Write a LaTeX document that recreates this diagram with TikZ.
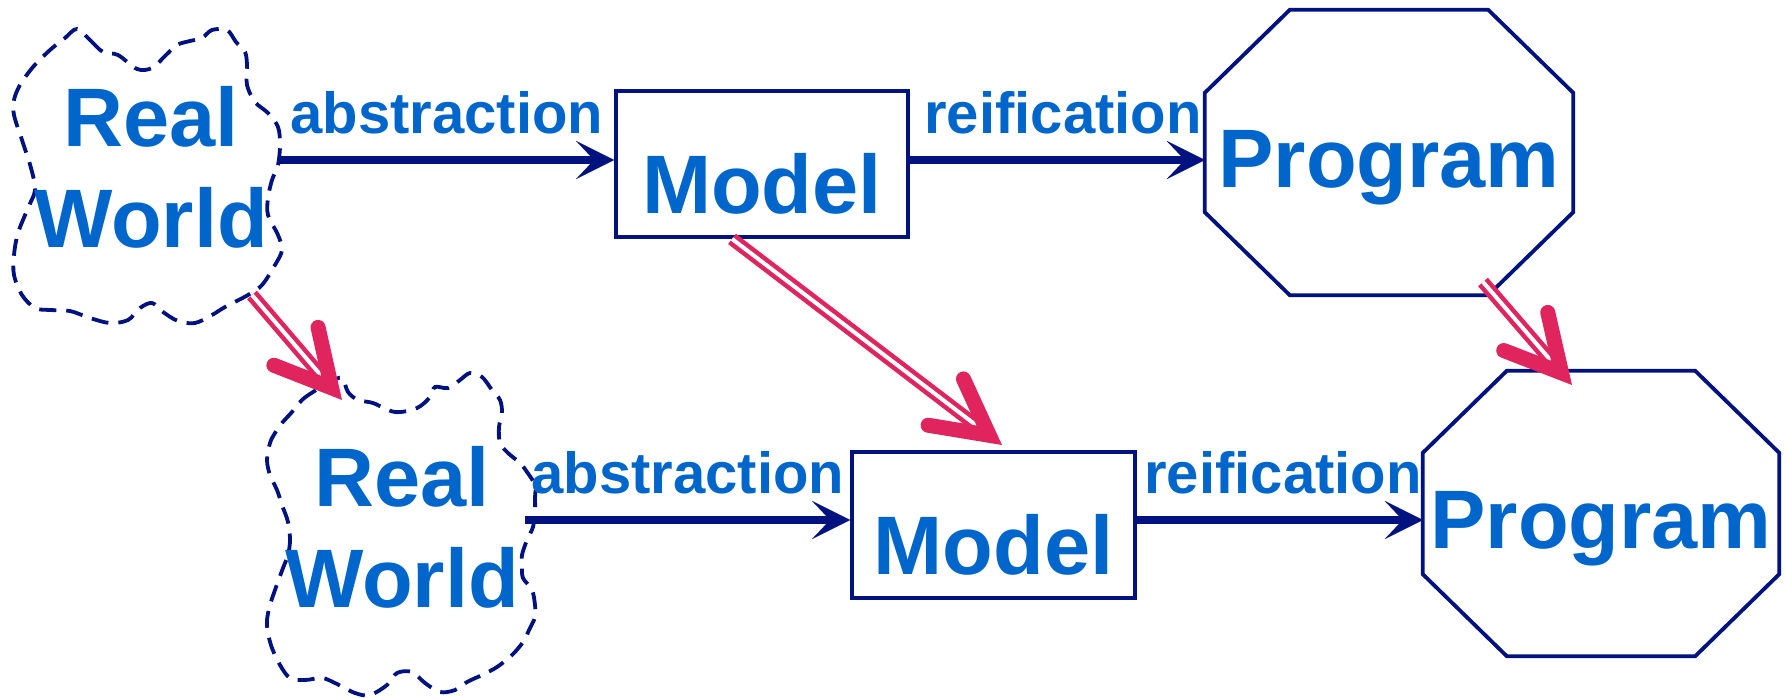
\documentclass[tikz,border=0pt]{standalone}
\usepackage{fontspec}
\setmainfont{Liberation Sans}
\usetikzlibrary{arrows.meta,calc}
\definecolor{navyc}{RGB}{0,17,128}
\definecolor{textblue}{RGB}{0,102,204}
\definecolor{redc}{RGB}{224,36,94}
\begin{document}
\begin{tikzpicture}[x=1pt,y=-1pt,
  bigfont/.style={font=\fontsize{83}{101}\selectfont\bfseries, text=textblue},
  bigtext/.style={bigfont, inner sep=0pt, align=center},
  lbl/.style={font=\fontsize{58}{60}\selectfont\bfseries, text=textblue, inner sep=0pt, anchor=base},
  modelbox/.style={bigfont, draw=navyc, line width=3.8pt, minimum height=146pt, text height=98pt, text depth=0pt, inner sep=0pt},
  octbox/.style={bigfont, minimum height=285pt, text height=70pt, text depth=0pt, inner sep=0pt},
  octline/.style={draw=navyc, line width=3.8pt, line join=miter},
  cloudline/.style={draw=navyc, line width=3.8pt, dash pattern=on 17pt off 10pt},
  blueline/.style={draw=navyc, line width=7.5pt, -{Stealth[length=38pt,width=38pt,inset=18pt,line width=0.01pt]}},
  redshaft/.style={draw=redc, double=white, line width=4.5pt, double distance=4pt},
  redhead/.style={draw=redc, line width=15pt, line cap=round, line join=miter}
]
\useasboundingbox[fill=white] (0,0) rectangle (1786,697);

% clouds
\draw[cloudline] plot[smooth cycle, tension=0.55] coordinates {
 (77,29) (90,40) (103,52) (118,55) (137,69) (152,68) (165,56) (177,45) (190,41) (202,38)
 (212,30) (227,30) (236,42) (245,52) (247,65) (247,85) (255,102) (268,113) (278,127)
 (280,145) (278,165) (272,180) (268,198) (268,215) (278,235) (282,250) (275,265)
 (262,285) (248,295) (225,307) (212,315) (195,323) (178,321) (163,312) (152,303)
 (140,308) (128,320) (110,323) (90,318) (70,311) (50,310) (35,308) (22,295) (14,275)
 (14,255) (18,233) (28,208) (35,190) (31,168) (22,140) (14,115) (14,100) (20,85)
 (33,67) (50,50) (65,38)};
\draw[cloudline] plot[smooth cycle, tension=0.55] coordinates {
 (292,412) (302,400) (313,392) (330,382) (342,378) (348,392) (358,400) (373,403)
 (395,412) (417,408) (430,397) (435,387) (448,388) (460,380) (470,373) (482,377)
 (492,390) (500,400) (502,413) (499,427) (500,443) (508,453) (520,463) (527,472)
 (535,485) (535,498) (535,510) (533,527) (527,540) (522,555) (522,567) (523,578)
 (532,590) (535,605) (535,617) (530,628) (523,642) (512,655) (497,667) (482,675)
 (467,682) (455,690) (440,692) (425,683) (412,672) (397,673) (387,685) (370,695)
 (355,693) (335,683) (322,678) (305,680) (290,678) (280,665) (272,648) (268,633)
 (267,620) (270,605) (275,590) (283,568) (288,555) (290,540) (288,522) (282,505)
 (277,490) (270,475) (267,460) (270,443) (275,433) (282,423)};

\node[bigtext] (rw1) at (151,167) {Real\\World};
\node[bigtext] (rw2) at (402,527) {Real\\World};
\coordinate (cloud1e) at (279,160);
\coordinate (cloud2e) at (525,520);

% models
\node[modelbox, minimum width=292pt] (model1) at (762,164) {Model};
\node[modelbox, minimum width=283pt] (model2) at (993.5,525) {Model};

% programs (octagons)
\node[octbox, minimum width=368pt] (oct1) at (1389,152.5) {Program};
\node[octbox, minimum width=356pt] (oct2) at (1601,513.5) {Program};
\draw[octline] ($(oct1.north west)+(85,0)$) -- ($(oct1.north east)+(-85,0)$) -- ($(oct1.north east)+(0,83)$)
  -- ($(oct1.south east)+(0,-83)$) -- ($(oct1.south east)+(-85,0)$) -- ($(oct1.south west)+(85,0)$)
  -- ($(oct1.south west)+(0,-83)$) -- ($(oct1.north west)+(0,83)$) -- cycle;
\draw[octline] ($(oct2.north west)+(84,0)$) -- ($(oct2.north east)+(-84,0)$) -- ($(oct2.north east)+(0,82)$)
  -- ($(oct2.south east)+(0,-82)$) -- ($(oct2.south east)+(-84,0)$) -- ($(oct2.south west)+(84,0)$)
  -- ($(oct2.south west)+(0,-82)$) -- ($(oct2.north west)+(0,82)$) -- cycle;

% blue connectors
\draw[blueline] (cloud1e) -- (cloud1e -| model1.west);
\draw[blueline] (cloud1e -| model1.east) -- (cloud1e -| oct1.west);
\draw[blueline] (cloud2e) -- (cloud2e -| model2.west);
\draw[blueline] (cloud2e -| model2.east) -- (cloud2e -| oct2.west);

% labels
\node[lbl] (abs1) at (447,133) {abstraction};
\node[lbl] (rei1) at (1063,133) {reification};
\node[lbl] (abs2) at (688,493) {abstraction};
\node[lbl] (rei2) at (1283,493) {reification};

% red double arrows
\coordinate (S1) at (252,295); \coordinate (T1) at (342,400);
\coordinate (S2) at (model1.south -| 732,0); \coordinate (T2) at (1002,445);
\coordinate (S3) at (1483,282); \coordinate (T3) at (1572,385);
\foreach \i in {1,2,3}{
  \coordinate (V\i) at ($(T\i)!16pt!(S\i)$);
  \draw[redshaft] (S\i) -- (V\i);
  \draw[redhead] ($(V\i)!62pt!28:(S\i)$) -- (V\i) -- ($(V\i)!62pt!-28:(S\i)$);
}
\end{tikzpicture}
\end{document}
